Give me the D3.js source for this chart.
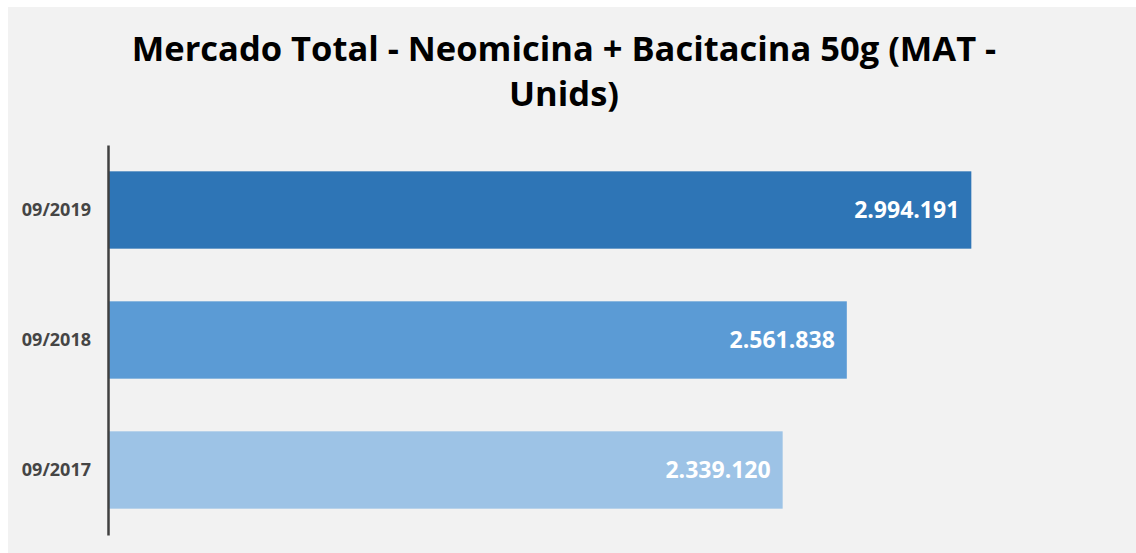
<!DOCTYPE html>
<html>
<head>
<meta charset="utf-8" />
<title>Mercado Total</title>
<style>
  body { margin: 0; background: #fff; }
  svg { display: block; font-family: "Open Sans", sans-serif; }
</style>
</head>
<body>
<svg width="1136" height="553"></svg>
<script src="https://cdn.jsdelivr.net/npm/d3@7"></script>
<script>
var periods = ['09/2019', '09/2018', '09/2017'];
var units = [2994191, 2561838, 2339120];
var barColors = ['#2e75b6', '#5b9bd5', '#9dc3e6'];
var titleLines = ['Mercado Total - Neomicina + Bacitacina 50g (MAT -', 'Unids)'];

var svg = d3.select('svg');

svg.append('rect')
    .attr('x', 8).attr('y', 7)
    .attr('width', 1128).attr('height', 546)
    .attr('fill', '#f2f2f2');

svg.append('text')
    .attr('text-anchor', 'middle')
    .attr('font-size', 34.5)
    .attr('font-weight', 'bold')
    .attr('fill', '#000')
    .selectAll('tspan')
    .data(titleLines)
    .enter()
    .append('tspan')
    .attr('x', 564)
    .attr('y', function (d, i) { return 61 + i * 45; })
    .text(function (d) { return d; });

var x = d3.scaleLinear()
    .domain([0, 3500000])
    .range([109, 1117]);

var y = d3.scaleBand()
    .domain(periods)
    .range([145, 535])
    .paddingInner(0.405)
    .paddingOuter(0.2025);

var data = periods.map(function (p, i) {
    return { periodo: p, valor: units[i], cor: barColors[i] };
});

var fmt = function (v) {
    return d3.format(',')(v).replace(/,/g, '.');
};

svg.append('g')
    .selectAll('rect')
    .data(data)
    .enter()
    .append('rect')
    .attr('x', x(0))
    .attr('y', function (d) { return y(d.periodo); })
    .attr('width', function (d) { return x(d.valor) - x(0); })
    .attr('height', y.bandwidth())
    .attr('fill', function (d) { return d.cor; });

svg.append('g')
    .selectAll('text')
    .data(data)
    .enter()
    .append('text')
    .attr('x', function (d) { return x(d.valor) - 12; })
    .attr('y', function (d) { return y(d.periodo) + y.bandwidth() / 2; })
    .attr('dy', '0.35em')
    .attr('text-anchor', 'end')
    .attr('font-size', 23)
    .attr('font-weight', 'bold')
    .attr('fill', '#fff')
    .text(function (d) { return fmt(d.valor); });

var axis = svg.append('g')
    .attr('transform', 'translate(' + (x(0) - 1) + ',0)')
    .call(d3.axisLeft(y).tickSize(0).tickPadding(17));

axis.select('.domain')
    .attr('stroke', '#404040')
    .attr('stroke-width', 2.5);

axis.selectAll('text')
    .attr('font-family', '"Open Sans", sans-serif')
    .attr('font-size', 18)
    .attr('font-weight', 'bold')
    .attr('fill', '#454545');
</script>
</body>
</html>
